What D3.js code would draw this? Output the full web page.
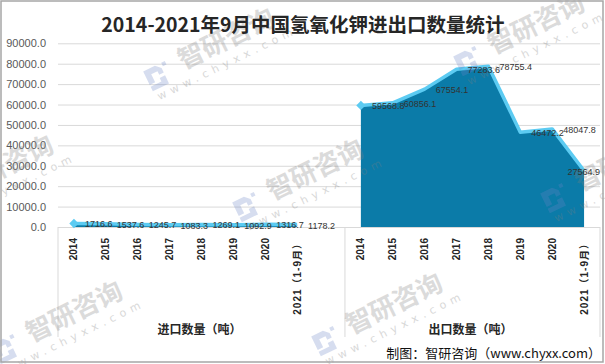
<!DOCTYPE html>
<html><head><meta charset="utf-8">
<script src="https://cdn.jsdelivr.net/npm/d3@7"></script>
<style>html,body{margin:0;padding:0;background:#fff;} svg{display:block;}</style>
</head><body><div id="chart"></div>
<script>
// ---- data ----
const title = "2014-2021年9月中国氢氧化钾进出口数量统计";
const years = ["2014","2015","2016","2017","2018","2019","2020","2021（1-9月）"];
const groups = ["进口数量（吨）","出口数量（吨）"];
const importVolume = [1716.6,1537.6,1245.7,1083.3,1269.1,1092.9,1316.7,1178.2];
const exportVolume = [59568.8,60856.1,67554.1,77283.6,78755.4,46472.2,48047.8,27564.9];
const yTicks = [0,10000,20000,30000,40000,50000,60000,70000,80000,90000];
const source = "制图：智研咨询（www.chyxx.com）";
const watermarkName = "智研咨询";
const watermarkUrl = "www.chyxx.com";

// ---- layout ----
const W = 605, H = 364;
const plotL = 58, plotR = 600, plotT = 43.3, plotB = 227, axisBottom = 337;
const svg = d3.select("#chart").append("svg").attr("width", W).attr("height", H);
svg.append("rect").attr("width", W).attr("height", H).attr("fill", "#fff");

const series = [importVolume, exportVolume];
const keys = [];
groups.forEach((g, gi) => {
  years.forEach(yr => keys.push(gi + "|" + yr));
  if (gi === 0) keys.push("gap");
});
const x = d3.scaleBand().domain(keys).range([plotL, plotR]).padding(0);
const cx = k => x(k) + x.bandwidth() / 2;
const y = d3.scaleLinear().domain([0, 90000]).range([plotB, plotT]);

// grid + y axis
const yAxis = d3.axisLeft(y).tickValues(yTicks).tickSize(-(plotR - plotL))
  .tickPadding(12).tickFormat(d3.format(".1f"));
const gy = svg.append("g").attr("transform", `translate(${plotL},0)`).call(yAxis);
gy.select(".domain").remove();
gy.selectAll(".tick line").attr("stroke", "#d9d9d9").attr("stroke-width", 1);
gy.selectAll(".tick text").attr("fill", "#595959")
  .style("font-family", "'Liberation Sans', Arial, sans-serif").style("font-size", "11px");

// category axis separators
const sepX = [plotL, x("1|" + years[0]), plotR];
svg.selectAll("line.sep").data(sepX).join("line").attr("class", "sep")
  .attr("x1", d => d).attr("x2", d => d).attr("y1", plotB).attr("y2", axisBottom)
  .attr("stroke", "#d9d9d9").attr("stroke-width", 1);

// series
const area = d3.area().x(d => cx(d.key)).y0(y(0)).y1(d => y(d.v));
const line = d3.line().x(d => cx(d.key)).y(d => y(d.v));
const gData = series.map((vals, gi) => years.map((yr, i) => ({ key: gi + "|" + yr, v: vals[i] })));

gData.forEach(dd => {
  svg.append("path").attr("d", area(dd)).attr("fill", "#0b7ba8");
});
gData.forEach(dd => {
  svg.append("path").attr("d", line(dd)).attr("fill", "none")
    .attr("stroke", "#5ccbf2").attr("stroke-width", 3.5).attr("stroke-linejoin", "round");
  svg.append("path").attr("d", d3.symbol(d3.symbolDiamond2, 55)())
    .attr("transform", `translate(${cx(dd[0].key)},${y(dd[0].v)})`).attr("fill", "#5ccbf2");
});

// watermarks (drawn under the labels)
const spots = [[157,77],[467,62],[-64,204],[246,208],[554,199],[5,350],[325,342]];
spots.forEach(([px, py]) => {
  const g = svg.append("g").attr("transform", `translate(${px},${py}) rotate(-26)`)
    .attr("pointer-events", "none");
  g.append("path").attr("d", "M-10,-11h13l5,5v5h-5v-4h-7v9h-6z M2,2h6v9h-18v-5h12z M10,-11h4v4h-4z")
    .attr("fill", "#6a86c4").attr("opacity", 0.28);
  g.append("text").attr("x", 27).attr("y", 5).attr("fill", "#808080").attr("opacity", 0.28)
    .style("font-family", "'Noto Sans CJK SC', sans-serif").style("font-size", "26px")
    .style("font-weight", "bold").text(watermarkName);
  g.append("text").attr("x", -8).attr("y", 22).attr("fill", "#808080").attr("opacity", 0.3)
    .style("font-family", "'DejaVu Sans', sans-serif").style("font-size", "11px")
    .style("letter-spacing", "5px").text(watermarkUrl);
});

// data labels
gData.forEach(dd => {
  dd.forEach(d => {
    const t = svg.append("text").attr("x", cx(d.key) + 11).attr("y", y(d.v) + 1)
      .attr("dominant-baseline", "central").attr("fill", "#333")
      .style("font-family", "'Liberation Sans', Arial, sans-serif").style("font-size", "9px")
      .text(d3.format(".1f")(d.v));
    const len = t.node().getComputedTextLength();
    if (cx(d.key) + 11 + len > plotR) t.attr("x", plotR - len);
  });
});

// category labels
keys.filter(k => k !== "gap").forEach(k => {
  const label = k.split("|")[1];
  svg.append("text").attr("transform", `translate(${cx(k)},238) rotate(-90)`)
    .attr("text-anchor", "end").attr("dy", "0.35em").attr("fill", "#262626")
    .style("font-family", "'Liberation Sans', 'Noto Sans CJK SC', sans-serif")
    .style("font-size", "10px").style("font-weight", "bold")
    .style("letter-spacing", label.length > 4 ? "1px" : "0px")
    .text(label);
});

// group labels
groups.forEach((g, gi) => {
  svg.append("text").attr("x", (sepX[gi] + sepX[gi + 1]) / 2 - 2).attr("y", 333.5)
    .attr("text-anchor", "middle").attr("fill", "#262626")
    .style("font-family", "'Noto Sans CJK SC', sans-serif").style("font-size", "12px")
    .style("font-weight", "bold").text(g);
});

// title
svg.append("text").attr("x", 303).attr("y", 32).attr("text-anchor", "middle")
  .attr("fill", "#262626").style("font-family", "'Noto Sans CJK SC', sans-serif")
  .style("font-size", "19.5px").style("font-weight", "bold").text(title);

// source
svg.append("text").attr("x", 601).attr("y", 358).attr("text-anchor", "end")
  .attr("fill", "#111").style("font-family", "'Noto Sans CJK SC', sans-serif")
  .style("font-size", "13px").text(source);

// border
svg.append("rect").attr("x", 1).attr("y", 1).attr("width", 602).attr("height", 361)
  .attr("fill", "none").attr("stroke", "#a6a6a6").attr("stroke-width", 1.5);
</script></body></html>
